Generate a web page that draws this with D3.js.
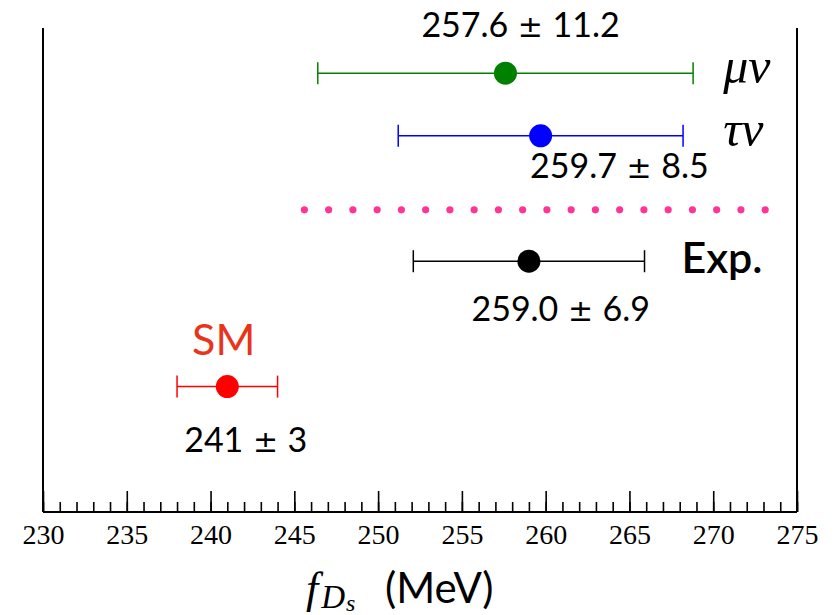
<!DOCTYPE html>
<html>
<head>
<meta charset="utf-8">
<script src="https://cdn.jsdelivr.net/npm/d3@7"></script>
<style>
  body { margin: 0; background: #fff; }
  svg { display: block; }
</style>
</head>
<body>
<svg width="837" height="615"></svg>
<script>
// Measurements (MeV)
const names = ["μν", "τν", "Exp.", "SM"];
const centrals = [257.6, 259.7, 259.0, 241];
const errors = [11.2, 8.5, 6.9, 3];
const rows = [3.5, 3.0, 2.0, 1.0];
const colors = ["#008000", "#0000ff", "#000000", "#ff0000"];

// value annotations (data coords)
const valueTexts = ["257.6 ± 11.2", "259.7 ± 8.5", "259.0 ± 6.9", "241 ± 3"];
const valueX = [258.5, 264.4, 260.9, 242.1];
const valueRow = [3.785, 2.66, 1.52, 0.478];

// name labels (data coords)
const nameX = [270.6, 270.6, 268.1, 238.9];
const nameRow = [3.418, 2.916, 1.904, 1.251];
const greek = ["μν", "τν"];

// dotted separator
const sepRange = [245.6, 273.1];
const sepRow = 2.41;
const sepCount = 20;

// axis
const xDomain = [230, 275];
const majorTicks = d3.range(230, 276, 5);
const minorTicks = d3.range(230, 276, 1);

const svg = d3.select("svg");
const margin = { top: 28, right: 40, bottom: 103, left: 43 };
const W = +svg.attr("width"), H = +svg.attr("height");

const x = d3.scaleLinear().domain(xDomain).range([margin.left, W - margin.right]);
const y = d3.scaleLinear().domain([0, 3.86]).range([H - margin.bottom, margin.top]);

// frame: left and right verticals
[xDomain[0], xDomain[1]].forEach(v => {
  svg.append("line")
    .attr("x1", x(v)).attr("x2", x(v))
    .attr("y1", y(3.86)).attr("y2", y(0))
    .attr("stroke", "#000").attr("stroke-width", 2);
});

// bottom axis with minor + major ticks
const axisG = svg.append("g").attr("transform", `translate(0,${y(0)})`);
axisG.call(d3.axisBottom(x).tickValues(minorTicks).tickSize(-10).tickFormat(""))
  .call(g => g.select(".domain").remove());
axisG.append("g")
  .call(d3.axisBottom(x).tickValues(majorTicks).tickSize(-21).tickPadding(12).tickFormat(d3.format("d")))
  .call(g => g.select(".domain").attr("stroke-width", 2).attr("d", `M${x(230)},0H${x(275)}`))
  .call(g => g.selectAll("text")
    .attr("font-family", "'Liberation Serif', serif")
    .attr("font-size", 28).attr("fill", "#000"));
axisG.selectAll(".tick line").attr("stroke", "#000").attr("stroke-width", 1.6);

// axis title: f_{D_s} (MeV)
const title = svg.append("text")
  .attr("x", 306).attr("y", 603)
  .attr("fill", "#000");
title.append("tspan").attr("font-family", "'Liberation Serif', serif").attr("font-style", "italic")
  .attr("font-size", 44).text("f");
title.append("tspan").attr("font-family", "'Liberation Serif', serif").attr("font-style", "italic")
  .attr("font-size", 33).attr("dx", 3).attr("dy", 5).text("D");
title.append("tspan").attr("font-family", "'Liberation Serif', serif").attr("font-style", "italic")
  .attr("font-size", 24).attr("dx", 1).attr("dy", 3).text("s");
title.append("tspan").attr("font-family", "Lato, sans-serif")
  .attr("font-size", 42).attr("x", 385).attr("y", 603).text("(MeV)");

// dotted separator
const sepStep = (sepRange[1] - sepRange[0]) / (sepCount - 1);
svg.append("g").selectAll("circle")
  .data(d3.range(sepCount).map(i => sepRange[0] + i * sepStep))
  .join("circle")
  .attr("cx", d => x(d)).attr("cy", y(sepRow)).attr("r", 3.6)
  .attr("fill", "#ff3494");

// error bars
const data = names.map((n, i) => ({
  name: n, c: centrals[i], e: errors[i], row: rows[i], color: colors[i],
  vt: valueTexts[i], vx: valueX[i], vr: valueRow[i], nx: nameX[i], nr: nameRow[i]
}));

const bars = svg.append("g").selectAll("g").data(data).join("g");
bars.append("line")
  .attr("x1", d => x(d.c - d.e)).attr("x2", d => x(d.c + d.e))
  .attr("y1", d => y(d.row)).attr("y2", d => y(d.row))
  .attr("stroke", d => d.color).attr("stroke-width", 1.5);
bars.selectAll(".cap")
  .data(d => [d.c - d.e, d.c + d.e].map(v => ({ v, d })))
  .join("line").attr("class", "cap")
  .attr("x1", p => x(p.v)).attr("x2", p => x(p.v))
  .attr("y1", p => y(p.d.row) - 11).attr("y2", p => y(p.d.row) + 11)
  .attr("stroke", p => p.d.color).attr("stroke-width", 1.5);
bars.append("circle")
  .attr("cx", d => x(d.c)).attr("cy", d => y(d.row)).attr("r", 11.5)
  .attr("fill", d => d.color);

// value annotations, the ± drawn in a math-like glyph
const vText = bars.append("text")
  .attr("x", d => x(d.vx)).attr("y", d => y(d.vr))
  .attr("text-anchor", "middle")
  .attr("font-family", "Lato, sans-serif").attr("font-size", 34)
  .attr("fill", "#000");
vText.append("tspan").text(d => d.vt.split(" ± ")[0]);
vText.append("tspan").attr("font-family", "'DejaVu Sans', sans-serif").attr("font-size", 30)
  .text(" ± ");
vText.append("tspan").text(d => d.vt.split(" ± ")[1]);

// name labels
const isGreek = d => greek.includes(d.name);
bars.append("text")
  .attr("x", d => x(d.nx)).attr("y", d => y(d.nr))
  .attr("font-family", d => isGreek(d) ? "'Liberation Serif', serif" : "Lato, sans-serif")
  .attr("font-style", d => isGreek(d) ? "italic" : "normal")
  .attr("font-weight", d => d.name === "Exp." ? 600 : 400)
  .attr("font-size", d => isGreek(d) ? 50 : 43)
  .attr("fill", d => d.name === "SM" ? "#e8341a" : "#000")
  .text(d => d.name);
</script>
</body>
</html>
